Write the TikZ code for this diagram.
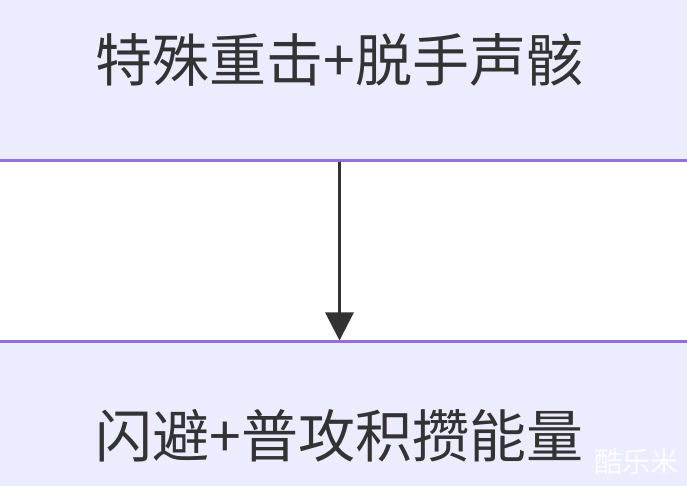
\documentclass[tikz,border=0pt]{standalone}
\usepackage{fontspec}
\usepackage{tikz}
\usetikzlibrary{arrows.meta,positioning}
\newfontfamily\cjk{Noto Sans CJK SC}
\definecolor{boxfill}{HTML}{ECECFF}
\definecolor{boxline}{HTML}{9370DB}
\definecolor{ink}{HTML}{333333}

\begin{document}
\begin{tikzpicture}[
    x=1pt,y=1pt,
    node distance=178pt,
    box/.style={rectangle,draw=boxline,fill=boxfill,line width=3pt,minimum width=800pt,minimum height=202pt,font=\cjk\fontsize{57}{60}\selectfont,text=ink},
    wmark/.style={font=\cjk\fontsize{28}{30}\selectfont,text=white,opacity=0.85},
    >={Triangle[length=28pt,width=28pt]}]
    \useasboundingbox (0,0) rectangle (687,486);
    \clip (0,0) rectangle (687,486);
    \node[box] (hit) at (339.5,426) {特殊重击+脱手声骸};
    \node[box,minimum height=187pt,below=of hit] (dodge) {闪避+普攻积攒能量};
    \draw[->,draw=ink,fill=ink,line width=3pt] (hit) -- (dodge);
    % 右下角水印
    \node[wmark,anchor=south east] (wm) at (682,8) {酷乐米};
\end{tikzpicture}
\end{document}
